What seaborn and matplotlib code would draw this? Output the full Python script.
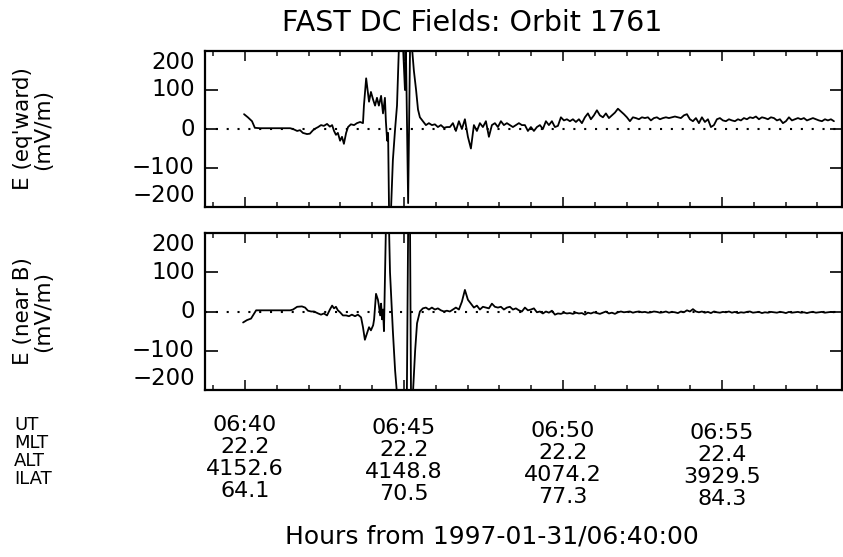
import numpy as np
import pandas as pd
import matplotlib
matplotlib.use("Agg")
import matplotlib.pyplot as plt
from matplotlib import font_manager
import seaborn as sns
from matplotlib.ticker import MultipleLocator, FixedLocator

sns.set_theme(style="white")

# pick a thin sans face if one is installed (the original uses thin vector glyphs)
FAM, WGT = "DejaVu Sans", "normal"
_avail = {(f.name, f.weight) for f in font_manager.fontManager.ttflist}
for fam, w in [("DejaVu Sans", 200), ("Roboto", 300), ("Lato", 300), ("Open Sans", 300),
               ("Noto Sans", 300)]:
    if any(n == fam and (wt == w or wt == str(w) or (isinstance(wt, int) and wt <= 300))
           for n, wt in _avail):
        FAM, WGT = fam, 300
        break
plt.rcParams["font.family"] = [FAM, "DejaVu Sans"]
plt.rcParams["font.weight"] = WGT

# ---------------- data (minutes from 06:40 UT, mV/m) ----------------
# early segment, eq'ward component
t_eq_early = [-0.03, 0.09, 0.22, 0.31, 0.47, 0.79, 1.10, 1.42, 1.51, 1.64, 1.73, 1.82,
              1.95, 2.04, 2.14, 2.23, 2.30, 2.39, 2.48, 2.58, 2.67, 2.74, 2.80, 2.86,
              2.92, 2.99, 3.05, 3.11, 3.18, 3.24, 3.33, 3.43, 3.52, 3.62, 3.71, 3.74,
              3.81, 3.84, 3.90, 3.96, 4.03, 4.09, 4.15, 4.21, 4.28, 4.34, 4.40, 4.43,
              4.47, 4.50, 4.53, 4.59, 4.65, 4.72, 4.78, 4.84, 4.91, 4.97, 5.03, 5.06,
              5.09, 5.13, 5.16, 5.19, 5.25, 5.31, 5.38, 5.44]
e_eq_early = [38, 30, 20, 3, 2, 2, 2, 2, 0, -5, -3, -10,
              -13, -12, -3, 2, 5, 10, 8, 13, 6, 10, -5, -15,
              -10, -30, -20, -38, -10, 5, 12, 10, 15, 18, 15, 60,
              130, 110, 70, 95, 75, 60, 80, 60, 85, 40, 80, 20,
              -30, -10, -210, -210, -80, 0, 60, 210, 210, 210, 100, 210,
              30, -190, 0, 210, 210, 150, 100, 50]
# late segment, eq'ward component (evenly sampled from 5.5 to 18.52 min)
e_eq_late = [30, 20, 10, 15, 10, 12, 5, 10, 3, 5, 5,
             15, -5, 20, 0, 25, -20, -50, 10, -5, 15,
             5, 20, -20, 10, 15, 5, 20, 10, 15, 10,
             5, 10, 15, 10, 10, -5, 5, -5, 5, 10,
             0, 20, 10, 20, 5, 8, 30, 22, 25, 20,
             25, 18, 25, 15, 30, 40, 25, 35, 48, 35,
             30, 40, 28, 35, 42, 52, 45, 38, 30, 20,
             30, 28, 25, 30, 28, 30, 22, 28, 30, 25,
             28, 30, 28, 30, 32, 30, 28, 35, 38, 25,
             20, 28, 15, 30, 18, 25, 5, 10, 25, 28,
             22, 20, 25, 22, 20, 25, 22, 28, 25, 30,
             28, 32, 25, 30, 28, 25, 30, 28, 22, 25,
             15, 20, 30, 22, 25, 28, 25, 28, 22, 25,
             28, 25, 22, 20, 25, 22, 25, 20]

# early segment, near-B component
t_nb_early = [-0.06, 0.06, 0.19, 0.25, 0.35, 0.47, 0.79, 1.10, 1.42, 1.51, 1.64, 1.79,
              1.89, 1.98, 2.08, 2.17, 2.30, 2.39, 2.48, 2.58, 2.67, 2.74, 2.80, 2.86,
              2.92, 2.99, 3.08, 3.18, 3.27, 3.36, 3.46, 3.55, 3.65, 3.71, 3.77, 3.84,
              3.90, 3.96, 4.03, 4.06, 4.12, 4.18, 4.21, 4.25, 4.28, 4.31, 4.34, 4.37,
              4.43, 4.50, 4.53, 4.56, 4.65, 4.72, 4.78, 4.84, 4.91, 4.97, 5.03, 5.09,
              5.13, 5.16, 5.19, 5.22, 5.28, 5.35, 5.41]
e_nb_early = [-28, -22, -18, -10, 3, 3, 3, 3, 3, 5, 12, 13,
              10, 2, 0, 0, -5, -8, -5, -10, 5, 15, 8, 12,
              3, -2, -10, -10, -12, -8, -12, -8, -15, -40, -72, -55,
              -40, -48, -35, -20, 45, 30, 15, -10, 20, -20, 5, -50,
              210, 210, 210, 100, -50, -150, -210, -210, -210, -210, -210, -210,
              210, 210, 210, -210, -210, -100, -30]
# late segment, near-B component (evenly sampled from 5.5 to 18.52 min)
e_nb_late = [0, 8, 10, 5, 10, 5, 8, 3, 0, 2, 0,
             5, 10, 5, 25, 55, 30, 20, 10, 15, 5,
             12, 10, 8, 20, 12, 10, 12, 5, 10, 12, 5, 8, 3, 0, 10, 3, 5, 8, -2, 0, -5, 0, -3, 2,
             -8, -5, -6, -3, -5, -4, -6, -3, -5, -4, -8, -3, -5, -2, -4, -6, -3, 0, -5, -3,
             -6, -2, 0, -2, -1, 0, -3, -1, 0, -2, -1, -3, -2, 0, -1, -3, -2, 0, -3, -1,
             -2, -4, 0, -2, 3, 0, 6, 0, -2, 0, -3, -1, -4, 0, -2, -3, -1, -2, 0, -3,
             -1, -4, -2, -3, -1, 0, -3, -2, -1, -4, -2, -3, -1, -2, -3, -1, -2, -4, -1, -3,
             -2, -1, -3, -2, -4, -2, -1, -3, -2, -1, -3, -2, -1, -2]

late_start, late_end = 5.5, 18.52

# annotation table under the plot
row_names = ["UT", "MLT", "ALT", "ILAT"]
col_ut = ["06:40", "06:45", "06:50", "06:55"]
col_mlt = ["22.2", "22.2", "22.2", "22.4"]
col_alt = ["4152.6", "4148.8", "4074.2", "3929.5"]
col_ilat = ["64.1", "70.5", "77.3", "84.3"]
col_minutes = [0, 5, 10, 15]

title = "FAST DC Fields: Orbit 1761"
ylabels = ["E (eq'ward)\n(mV/m)", "E (near B)\n(mV/m)"]
xlabel = "Hours from 1997-01-31/06:40:00"
yticks = [-200, -100, 0, 100, 200]

# ---------------- build frames ----------------
def frame(t_early, e_early, e_late):
    t_late = np.linspace(late_start, late_end, len(e_late))
    return pd.DataFrame({"t": list(t_early) + list(t_late),
                         "E": list(e_early) + list(e_late)})

df_eq = frame(t_eq_early, e_eq_early, e_eq_late)
df_nb = frame(t_nb_early, e_nb_early, e_nb_late)

W, H = 843, 557
fig = plt.figure(figsize=(W / 100, H / 100), dpi=100)
fig.patch.set_facecolor("white")

def px(x, y):
    return x / W, 1 - y / H

ax1 = fig.add_axes([205 / W, 1 - 207 / H, 637 / W, 156 / H])
ax2 = fig.add_axes([205 / W, 1 - 390 / H, 637 / W, 157 / H])

xmin, xmax = -40 / 31.8, 597 / 31.8
for ax, df, lab in [(ax1, df_eq, ylabels[0]), (ax2, df_nb, ylabels[1])]:
    ax.set_facecolor("white")
    ax.axhline(0, color="black", lw=1.5, ls=(0, (1, 4.2)), zorder=1)
    sns.lineplot(data=df, x="t", y="E", ax=ax, color="black", lw=1.3,
                 estimator=None, sort=False, zorder=3)
    ax.set_xlim(xmin, xmax)
    ax.set_ylim(-200, 200)
    ax.set_xlabel("")
    ax.set_ylabel("")
    for s in ax.spines.values():
        s.set_visible(True)
        s.set_color("black")
        s.set_linewidth(1.6)
    ax.xaxis.set_major_locator(MultipleLocator(5))
    ax.xaxis.set_minor_locator(MultipleLocator(1))
    ax.yaxis.set_major_locator(FixedLocator([-100, 0, 100]))
    ax.tick_params(axis="x", which="major", direction="in", length=7, width=1.3,
                   top=True, bottom=True, labelbottom=False)
    ax.tick_params(axis="x", which="minor", direction="in", length=3.5, width=1.2,
                   top=True, bottom=True)
    ax.tick_params(axis="y", which="major", direction="in", length=9, width=1.4,
                   left=True, right=True, labelleft=False)
    for v in yticks:
        va = "center"
        if v == 200:
            va = "top"
        elif v == -200:
            va = "bottom"
        lbl = str(v).replace("-", "\u2212")
        ax.text(-0.016, v, lbl, transform=ax.get_yaxis_transform(), ha="right",
                va=va, fontsize=16.5, color="black")
    ax.text(-0.27, 0.5, lab, transform=ax.transAxes, rotation=90, ha="center",
            va="center", fontsize=15.5, color="black", linespacing=1.05)

fig.text(*px(472, 23), title, ha="center", va="center", fontsize=20.5, color="black")

# annotation rows
name_y = [425, 443, 461, 479]
row_y = [425, 447, 469, 491]
col_dy = [0, 3, 6, 8]
rows = [col_ut, col_mlt, col_alt, col_ilat]
for name, y in zip(row_names, name_y):
    fig.text(*px(14, y), name, ha="left", va="center", fontsize=13, color="black")
for r, (vals, y) in enumerate(zip(rows, row_y)):
    for c, (m, v) in enumerate(zip(col_minutes, vals)):
        xf = ax2.transData.transform((m, 0))[0] / W
        fig.text(xf, 1 - (y + col_dy[c]) / H, v, ha="center", va="center",
                 fontsize=16, color="black")

fig.text(*px(492, 537), xlabel, ha="center", va="center", fontsize=18, color="black")

fig.savefig("out.png", dpi=100, facecolor="white")
